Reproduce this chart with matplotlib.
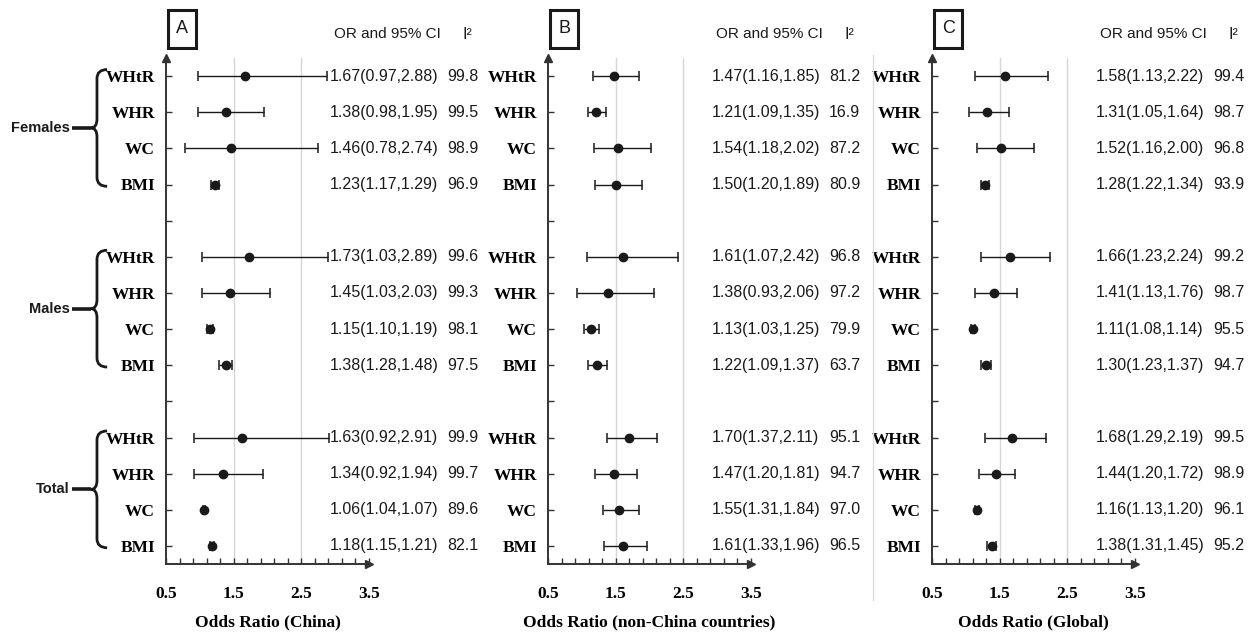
import numpy as np
import matplotlib
matplotlib.use("Agg")
import matplotlib.pyplot as plt
from matplotlib.path import Path
from matplotlib.patches import PathPatch, Rectangle
from matplotlib.lines import Line2D
from matplotlib.ticker import FixedLocator

groups = ["Females", "Males", "Total"]
measures = ["WHtR", "WHR", "WC", "BMI"]

# order: Females (WHtR, WHR, WC, BMI), Males (...), Total (...)
china_or = [1.67, 1.38, 1.46, 1.23, 1.73, 1.45, 1.15, 1.38, 1.63, 1.34, 1.06, 1.18]
china_lo = [0.97, 0.98, 0.78, 1.17, 1.03, 1.03, 1.10, 1.28, 0.92, 0.92, 1.04, 1.15]
china_hi = [2.88, 1.95, 2.74, 1.29, 2.89, 2.03, 1.19, 1.48, 2.91, 1.94, 1.07, 1.21]
china_i2 = [99.8, 99.5, 98.9, 96.9, 99.6, 99.3, 98.1, 97.5, 99.9, 99.7, 89.6, 82.1]

nonchina_or = [1.47, 1.21, 1.54, 1.50, 1.61, 1.38, 1.13, 1.22, 1.70, 1.47, 1.55, 1.61]
nonchina_lo = [1.16, 1.09, 1.18, 1.20, 1.07, 0.93, 1.03, 1.09, 1.37, 1.20, 1.31, 1.33]
nonchina_hi = [1.85, 1.35, 2.02, 1.89, 2.42, 2.06, 1.25, 1.37, 2.11, 1.81, 1.84, 1.96]
nonchina_i2 = [81.2, 16.9, 87.2, 80.9, 96.8, 97.2, 79.9, 63.7, 95.1, 94.7, 97.0, 96.5]

global_or = [1.58, 1.31, 1.52, 1.28, 1.66, 1.41, 1.11, 1.30, 1.68, 1.44, 1.16, 1.38]
global_lo = [1.13, 1.05, 1.16, 1.22, 1.23, 1.13, 1.08, 1.23, 1.29, 1.20, 1.13, 1.31]
global_hi = [2.22, 1.64, 2.00, 1.34, 2.24, 1.76, 1.14, 1.37, 2.19, 1.72, 1.20, 1.45]
global_i2 = [99.4, 98.7, 96.8, 93.9, 99.2, 98.7, 95.5, 94.7, 99.5, 98.9, 96.1, 95.2]

x_ticks = [0.5, 1.5, 2.5, 3.5]

SANS = ["Liberation Sans", "DejaVu Sans"]
SERIF = ["Liberation Serif", "DejaVu Serif"]
INK = "#1a1a1a"

# row positions, top to bottom, with one empty slot between groups
ys = []
for gi in range(len(groups)):
    for mi in range(len(measures)):
        ys.append(14 - (gi * 5 + mi))
ys = np.array(ys)
all_y = np.arange(1, 15)

fig = plt.figure(figsize=(12.53, 6.38), dpi=100)

W, H = 1253, 638
top_px, bot_px = 58, 564
ax_w = 203


def make_ax(left_px):
    return fig.add_axes([left_px / W, 1 - bot_px / H, ax_w / W, (bot_px - top_px) / H])


def draw_panel(ax, letter, xlabel, o, lo, hi, i2):
    o = np.array(o)
    lo = np.array(lo)
    hi = np.array(hi)
    ax.axvline(1.5, color="#d6d6d6", lw=1, zorder=0)
    ax.axvline(2.5, color="#d6d6d6", lw=1, zorder=0)
    ax.errorbar(o, ys, xerr=[o - lo, hi - o], fmt="o", color=INK, ms=6,
                capsize=3.5, elinewidth=1.0, capthick=1.1, zorder=3)

    ax.set_xlim(0.5, 3.5)
    ax.set_ylim(0.5, 14.5)
    for s in ["top", "right"]:
        ax.spines[s].set_visible(False)
    for s in ["left", "bottom"]:
        ax.spines[s].set_color("#333333")
        ax.spines[s].set_linewidth(1.4)
    # arrows
    ax.plot([1], [0], marker=">", ms=6, color="#333333", transform=ax.transAxes, clip_on=False)
    ax.plot([0], [1], marker="^", ms=6, color="#333333", transform=ax.transAxes, clip_on=False)

    ax.set_xticks(x_ticks)
    ax.set_xticklabels([str(t) for t in x_ticks], family=SERIF, fontweight="bold", fontsize=12.5)
    ax.xaxis.set_minor_locator(FixedLocator(np.arange(0.5, 3.51, 0.2)))
    ax.tick_params(axis="x", which="both", direction="in", length=4, width=1, pad=16, color="#333333")
    ax.set_xlabel(xlabel, family=SERIF, fontweight="bold", fontsize=12.5, labelpad=9)

    labels = {y: m for y, m in zip(ys, measures * 3)}
    ax.set_yticks(all_y)
    ax.set_yticklabels([labels.get(y, "") for y in all_y], family=SERIF,
                       fontweight="bold", fontsize=12.5)
    ax.tick_params(axis="y", direction="in", length=4, width=1, pad=8, color="#333333")

    tr = ax.get_yaxis_transform()
    for k in range(len(o)):
        ax.text(0.805, ys[k], f"{o[k]:.2f}({lo[k]:.2f},{hi[k]:.2f})", transform=tr,
                ha="left", va="center", family=SANS, fontsize=11.5, color=INK)
        ax.text(1.385, ys[k], f"{i2[k]:.1f}", transform=tr,
                ha="left", va="center", family=SANS, fontsize=11.5, color=INK)

    ax.text(0.83, 1.047, "OR and 95% CI", transform=ax.transAxes, ha="left", va="center",
            family=SANS, fontsize=11, color=INK)
    ax.text(1.46, 1.047, "I²", transform=ax.transAxes, ha="left", va="center",
            family=SANS, fontsize=11.5, color=INK)

    ax.add_patch(Rectangle((0.01, 1.02), 0.14, 0.075, transform=ax.transAxes, fill=False,
                           lw=2.2, edgecolor=INK, clip_on=False))
    ax.text(0.08, 1.0575, letter, transform=ax.transAxes, ha="center", va="center",
            family=SANS, fontsize=13, color=INK)


def draw_bracket(ax, name, y_top, y_bot):
    tr = ax.get_yaxis_transform()
    xv, xh, xt = -0.34, -0.29, -0.37
    ym = (y_top + y_bot) / 2
    r = 0.25
    verts = [(xh, y_top), (xv, y_top), (xv, y_top - r),
             (xv, ym + r), (xv, ym), (xt, ym),
             (xv, ym), (xv, ym - r),
             (xv, y_bot + r), (xv, y_bot), (xh, y_bot)]
    codes = [Path.MOVETO, Path.CURVE3, Path.CURVE3,
             Path.LINETO, Path.CURVE3, Path.CURVE3,
             Path.CURVE3, Path.CURVE3,
             Path.LINETO, Path.CURVE3, Path.CURVE3]
    ax.add_patch(PathPatch(Path(verts, codes), transform=tr, fill=False, lw=2,
                           edgecolor=INK, clip_on=False))
    ax.plot([-0.465, xt], [ym, ym], transform=tr, color=INK, lw=2.6, clip_on=False,
            solid_capstyle="butt")
    ax.text(-0.475, ym, name, transform=tr, ha="right", va="center", family=SANS,
            fontweight="bold", fontsize=10.5, color=INK)


axA = make_ax(166)
axB = make_ax(548)
axC = make_ax(932)

draw_panel(axA, "A", "Odds Ratio (China)", china_or, china_lo, china_hi, china_i2)
draw_panel(axB, "B", "Odds Ratio (non-China countries)", nonchina_or, nonchina_lo, nonchina_hi, nonchina_i2)
draw_panel(axC, "C", "Odds Ratio (Global)", global_or, global_lo, global_hi, global_i2)

for gi, g in enumerate(groups):
    rows = ys[gi * 4:(gi + 1) * 4]
    draw_bracket(axA, g, rows.max() + 0.18, rows.min() - 0.05)

fig.add_artist(Line2D([873 / W, 873 / W], [1 - 55 / H, 1 - 600 / H], color="#dcdcdc", lw=1))

fig.savefig("out.png", dpi=100)
